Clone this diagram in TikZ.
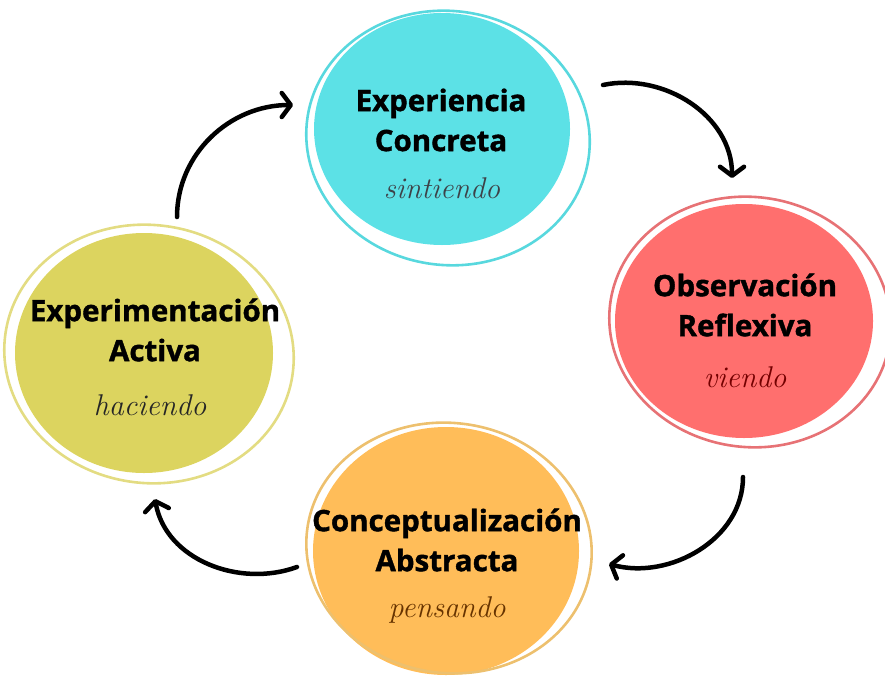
\documentclass[tikz,border=0pt]{standalone}
\usepackage{fontspec}
\newfontfamily\boldsans[FakeBold=1.3]{Open Sans}
\usepackage{tikz}
\usetikzlibrary{arrows.meta,shapes.geometric,positioning}

\definecolor{cyanfill}{HTML}{5CE1E6}
\definecolor{cyanring}{HTML}{58D8DE}
\definecolor{redfill}{HTML}{FF6F6E}
\definecolor{redring}{HTML}{E77275}
\definecolor{orangefill}{HTML}{FFBD59}
\definecolor{orangering}{HTML}{EDC06E}
\definecolor{yellowfill}{HTML}{DCD45F}
\definecolor{yellowring}{HTML}{E3DC82}

\begin{document}
\begin{tikzpicture}[x=1pt,y=1pt,>={Straight Barb[length=9pt,width=24pt,round]},
		blob/.style={ellipse,inner sep=0pt},
		ring/.style={ellipse,draw,line width=2.6pt,inner sep=0pt},
		title/.style={font=\boldsans\bfseries\fontsize{29.5}{40}\selectfont,align=center},
		mood/.style={font=\itshape\fontsize{30}{30}\selectfont},
		loopy/.style={line width=4.5pt,line cap=round}]
		
		\useasboundingbox (0,0) rectangle (885,-680);
		
		% circles
		\node[blob,fill=cyanfill,minimum width=256pt,minimum height=232pt]  (concreta) at (442,-129) {};
		\node[ring,draw=cyanring,minimum width=284pt,minimum height=254pt,rotate=-8]  (concretaring) at (448,-138) {};
		\node[blob,fill=redfill,minimum width=258pt,minimum height=234pt]  (reflexiva) at (744,-321) {};
		\node[ring,draw=redring,minimum width=282pt,minimum height=250pt,rotate=-8]  (reflexivaring) at (750,-322) {};
		\node[blob,fill=orangefill,minimum width=266pt,minimum height=248pt]  (abstracta) at (446,-551) {};
		\node[ring,draw=orangering,minimum width=286pt,minimum height=250pt,rotate=-8]  (abstractaring) at (449,-548) {};
		\node[blob,fill=yellowfill,minimum width=258pt,minimum height=240pt]  (activa) at (144,-353) {};
		\node[ring,draw=yellowring,minimum width=290pt,minimum height=258pt,rotate=-8]  (activaring) at (149,-354) {};
		
		% texts
		\node[title]  (concretatxt) at (441,-120) {Experiencia\\Concreta};
		\node[mood,text=black!70!cyan!60!black]  (concretamood) at (442,-188) {sintiendo};
		\node[title]  (reflexivatxt) at (745,-305) {Observación\\Reflexiva};
		\node[mood,text=red!45!black]  (reflexivamood) at (745,-377) {viendo};
		\node[title]  (abstractatxt) at (447,-540) {Conceptualización\\Abstracta};
		\node[mood,text=orange!40!black]  (abstractamood) at (447,-610) {pensando};
		\node[title]  (activatxt) at (155,-330) {Experimentación\\Activa};
		\node[mood,text=black!85]  (activamood) at (150,-405) {haciendo};
		
		% arrows
		\coordinate (a1) at (177,-217);
		\coordinate (a2) at (293,-105);
		\coordinate (b1) at (603,-85);
		\coordinate (b2) at (732,-178);
		\coordinate (c1) at (743,-477);
		\coordinate (c2) at (609,-564);
		\coordinate (d1) at (297,-567);
		\coordinate (d2) at (155,-499);
		
		\path[->,loopy] (a1) edge[out=90,in=180] (a2);
		\path[->,loopy] (b1) edge[out=12,in=90] (b2);
		\path[->,loopy] (c1) edge[out=-90,in=-15] (c2);
		\path[->,loopy] (d1) edge[out=200,in=-80] (d2);
	\end{tikzpicture}
\end{document}
